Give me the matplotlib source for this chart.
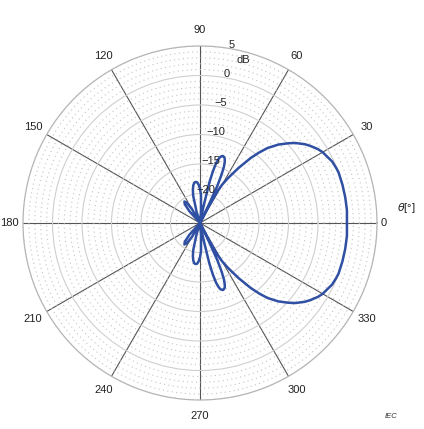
import numpy as np
import matplotlib.pyplot as plt
from matplotlib.ticker import MultipleLocator

plt.rcParams['font.family'] = ['Liberation Sans', 'DejaVu Sans']

# radiation pattern, upper half (0..180 deg), in dB
angle_deg = [0, 5, 10, 15, 20, 22, 25, 27, 30, 32, 35, 37, 40, 42, 45, 48, 50, 52, 55, 58, 60, 61, 62, 63,
             64, 65, 66, 67, 68, 69, 70, 71, 72, 73, 74, 75, 76, 77, 78, 79,
             81, 82.5, 85, 88, 90, 92, 94, 96, 98, 100, 102, 104, 107, 109.5, 111, 112,
             114, 115, 117, 120, 123, 126, 129, 132, 135, 137, 138, 140,
             150, 160, 170, 180]
gain_db = [-0.1, 0.0, 0.0, 0.0, 0.0, -0.1, -0.3, -0.6, -1.0, -1.4, -2.2, -2.8, -3.9, -4.8, -6.2, -7.9, -9.4,
           -11.0, -13.6, -16.0, -17.5, -18.7, -22.0, -40,
           -22, -18, -16, -14.6, -13.8, -13.3, -13.1, -13.0, -13.1, -13.3, -13.8, -14.6, -16, -18, -22, -40,
           -31, -28, -23, -20.2, -19.2, -18.5, -18.1, -18.0, -18.1, -18.5, -19.2, -20.2, -23, -28, -31, -40,
           -31, -28, -25, -22.3, -20.9, -20.5, -20.9, -22.3, -25, -28, -31, -40,
           -40, -40, -40, -40]

r_ticks = [-20, -15, -10, -5, 0, 5]
r_labels = ['\u221220', '\u221215', '\u221210', '\u22125', '0', '5']
theta_ticks = list(range(0, 360, 30))

# pattern is symmetric about 0 deg
ang = np.array(angle_deg)
db = np.array(gain_db)
theta = np.deg2rad(np.concatenate([-ang[::-1], ang[1:]]))
vals = np.concatenate([db[::-1], db[1:]])
vals = np.clip(vals, -25, None)

fig = plt.figure(figsize=(4.24, 4.29), dpi=100)
ax = fig.add_axes([23 / 424, 29 / 429, 354 / 424, 354 / 429], projection='polar')

ax.set_ylim(-25, 5)
ax.set_yticks(r_ticks[:-1])
ax.set_yticklabels([])
ax.yaxis.set_minor_locator(MultipleLocator(1))
ax.yaxis.grid(True, which='major', color='#cfcfcf', lw=0.8, ls='-')
ax.yaxis.grid(True, which='minor', color='#c4c4c4', lw=0.8, ls=(0, (1, 3)))
ax.tick_params(axis='y', which='both', length=0)

ax.set_thetagrids(theta_ticks, [''] * len(theta_ticks))
ax.xaxis.grid(True, color='#555555', lw=0.8, ls='-')
ax.spines['polar'].set_color('#b5b5b5')
ax.spines['polar'].set_linewidth(0.9)

ax.plot(theta, vals, color='#2f4fa3', lw=1.8, zorder=5, solid_joinstyle='round')

# angle labels round the outside
for a in theta_ticks:
    rr = 7.7
    if a == 0:
        rr = 6.2
    elif a == 180:
        rr = 7.3
    ax.text(np.deg2rad(a), rr, str(a), ha='center', va='center', fontsize=8,
            color='#222222')

for r, lab in zip(r_ticks, r_labels):
    ax.text(np.deg2rad(80), r + 0.6, lab, ha='center', va='center', fontsize=8,
            color='#222222', zorder=6)
ax.text(np.deg2rad(75.3), 3.6, 'dB', ha='center', va='center', fontsize=8,
        color='#222222')

fig.text(406 / 424, 1 - 208 / 429, r'$\theta$[°]', ha='center', va='center', fontsize=8,
         color='#222222')
fig.text(391 / 424, 1 - 416 / 429, 'IEC', ha='center', va='center', fontsize=5.5,
         style='italic', color='#333333')

fig.savefig('out.png', dpi=100, facecolor='white')
